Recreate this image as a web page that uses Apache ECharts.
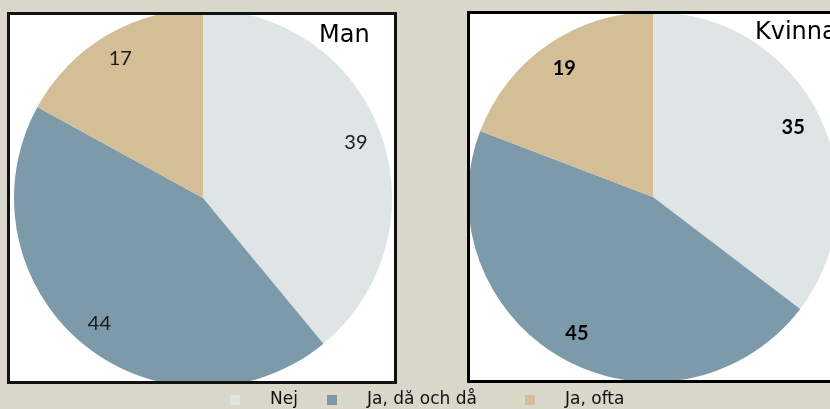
<!DOCTYPE html>
<html>
<head>
<meta charset="utf-8">
<script src="https://cdn.jsdelivr.net/npm/echarts@6/dist/echarts.min.js"></script>
<style>
html,body{margin:0;padding:0;background:#d9d6ca;}
#c{width:830px;height:409px;}
</style>
</head>
<body>
<div id="c"></div>
<script>
const categories = ['Nej', 'Ja, då och då', 'Ja, ofta'];
const manValues = [39, 44, 17];
const kvinnaValues = [35, 45, 19];
const groupTitles = ['Man', 'Kvinna'];
const colors = ['#dfe4e4', '#7d9aab', '#d4be95'];

const chart = echarts.init(document.getElementById('c'), null, {renderer: 'canvas'});

function mkData(vals) {
  return categories.map((n, i) => ({name: n, value: vals[i], itemStyle: {color: colors[i]}}));
}
function mkLabelData(vals) {
  return categories.map((n, i) => ({name: n, value: vals[i], itemStyle: {color: 'rgba(0,0,0,0)'}}));
}

const L = {c: [203, 198], r: 189, lr: [130, 189]};
const R = {c: [653, 197], r: 185, lr: [122, 185]};

function pieSeries(cfg, vals) {
  return {
    type: 'pie', center: cfg.c, radius: [0, cfg.r], startAngle: 90, clockwise: true,
    data: mkData(vals), label: {show: false}, labelLine: {show: false},
    silent: true, animation: false, z: 2
  };
}
function labelSeries(cfg, vals, lab) {
  return {
    type: 'pie', center: cfg.c, radius: cfg.lr, startAngle: 90, clockwise: true,
    data: mkLabelData(vals), silent: true, animation: false, z: 3,
    legendHoverLink: false,
    label: Object.assign({show: true, position: 'inside', formatter: '{c}'}, lab),
    labelLine: {show: false}
  };
}

const legendLefts = [230, 327, 525];

chart.setOption({
  backgroundColor: '#d9d6ca',
  animation: false,
  legend: categories.map((n, i) => ({
    data: [{name: n, itemStyle: {color: colors[i]}}],
    left: legendLefts[i], top: 390, padding: 0,
    icon: 'rect', itemWidth: 10, itemHeight: 10,
    selectedMode: false,
    textStyle: {fontFamily: 'DejaVu Sans', fontSize: 17, color: '#111', padding: [0, 0, 0, 25], lineHeight: 20}
  })),
  graphic: [
    {type: 'rect', z: -10, shape: {x: 8.5, y: 13.5, width: 387, height: 369}, style: {fill: '#ffffff'}},
    {type: 'rect', z: -10, shape: {x: 468.5, y: 12.5, width: 380, height: 369}, style: {fill: '#ffffff'}},
    {type: 'rect', z: 50, shape: {x: 0, y: 0, width: 460, height: 12}, style: {fill: '#d9d6ca'}},
    {type: 'rect', z: 50, shape: {x: 0, y: 384, width: 460, height: 6}, style: {fill: '#d9d6ca'}},
    {type: 'rect', z: 60, shape: {x: 8.5, y: 13.5, width: 387, height: 369}, style: {fill: 'none', stroke: '#111', lineWidth: 3}},
    {type: 'rect', z: 60, shape: {x: 468.5, y: 12.5, width: 380, height: 369}, style: {fill: 'none', stroke: '#000', lineWidth: 3}},
    {type: 'text', z: 70, left: 319, top: 24, style: {text: groupTitles[0], fontFamily: 'DejaVu Sans', fontSize: 24, fill: '#000'}},
    {type: 'text', z: 70, left: 755, top: 21, style: {text: groupTitles[1], fontFamily: 'DejaVu Sans', fontSize: 24, fill: '#000'}}
  ],
  series: [
    pieSeries(L, manValues),
    pieSeries(R, kvinnaValues),
    labelSeries(L, manValues, {fontFamily: 'Lato', fontSize: 20, color: '#1a1a1a'}),
    labelSeries(R, kvinnaValues, {fontFamily: 'Lato', fontSize: 20, fontWeight: 'bold', color: '#000'})
  ]
});
</script>
</body>
</html>
